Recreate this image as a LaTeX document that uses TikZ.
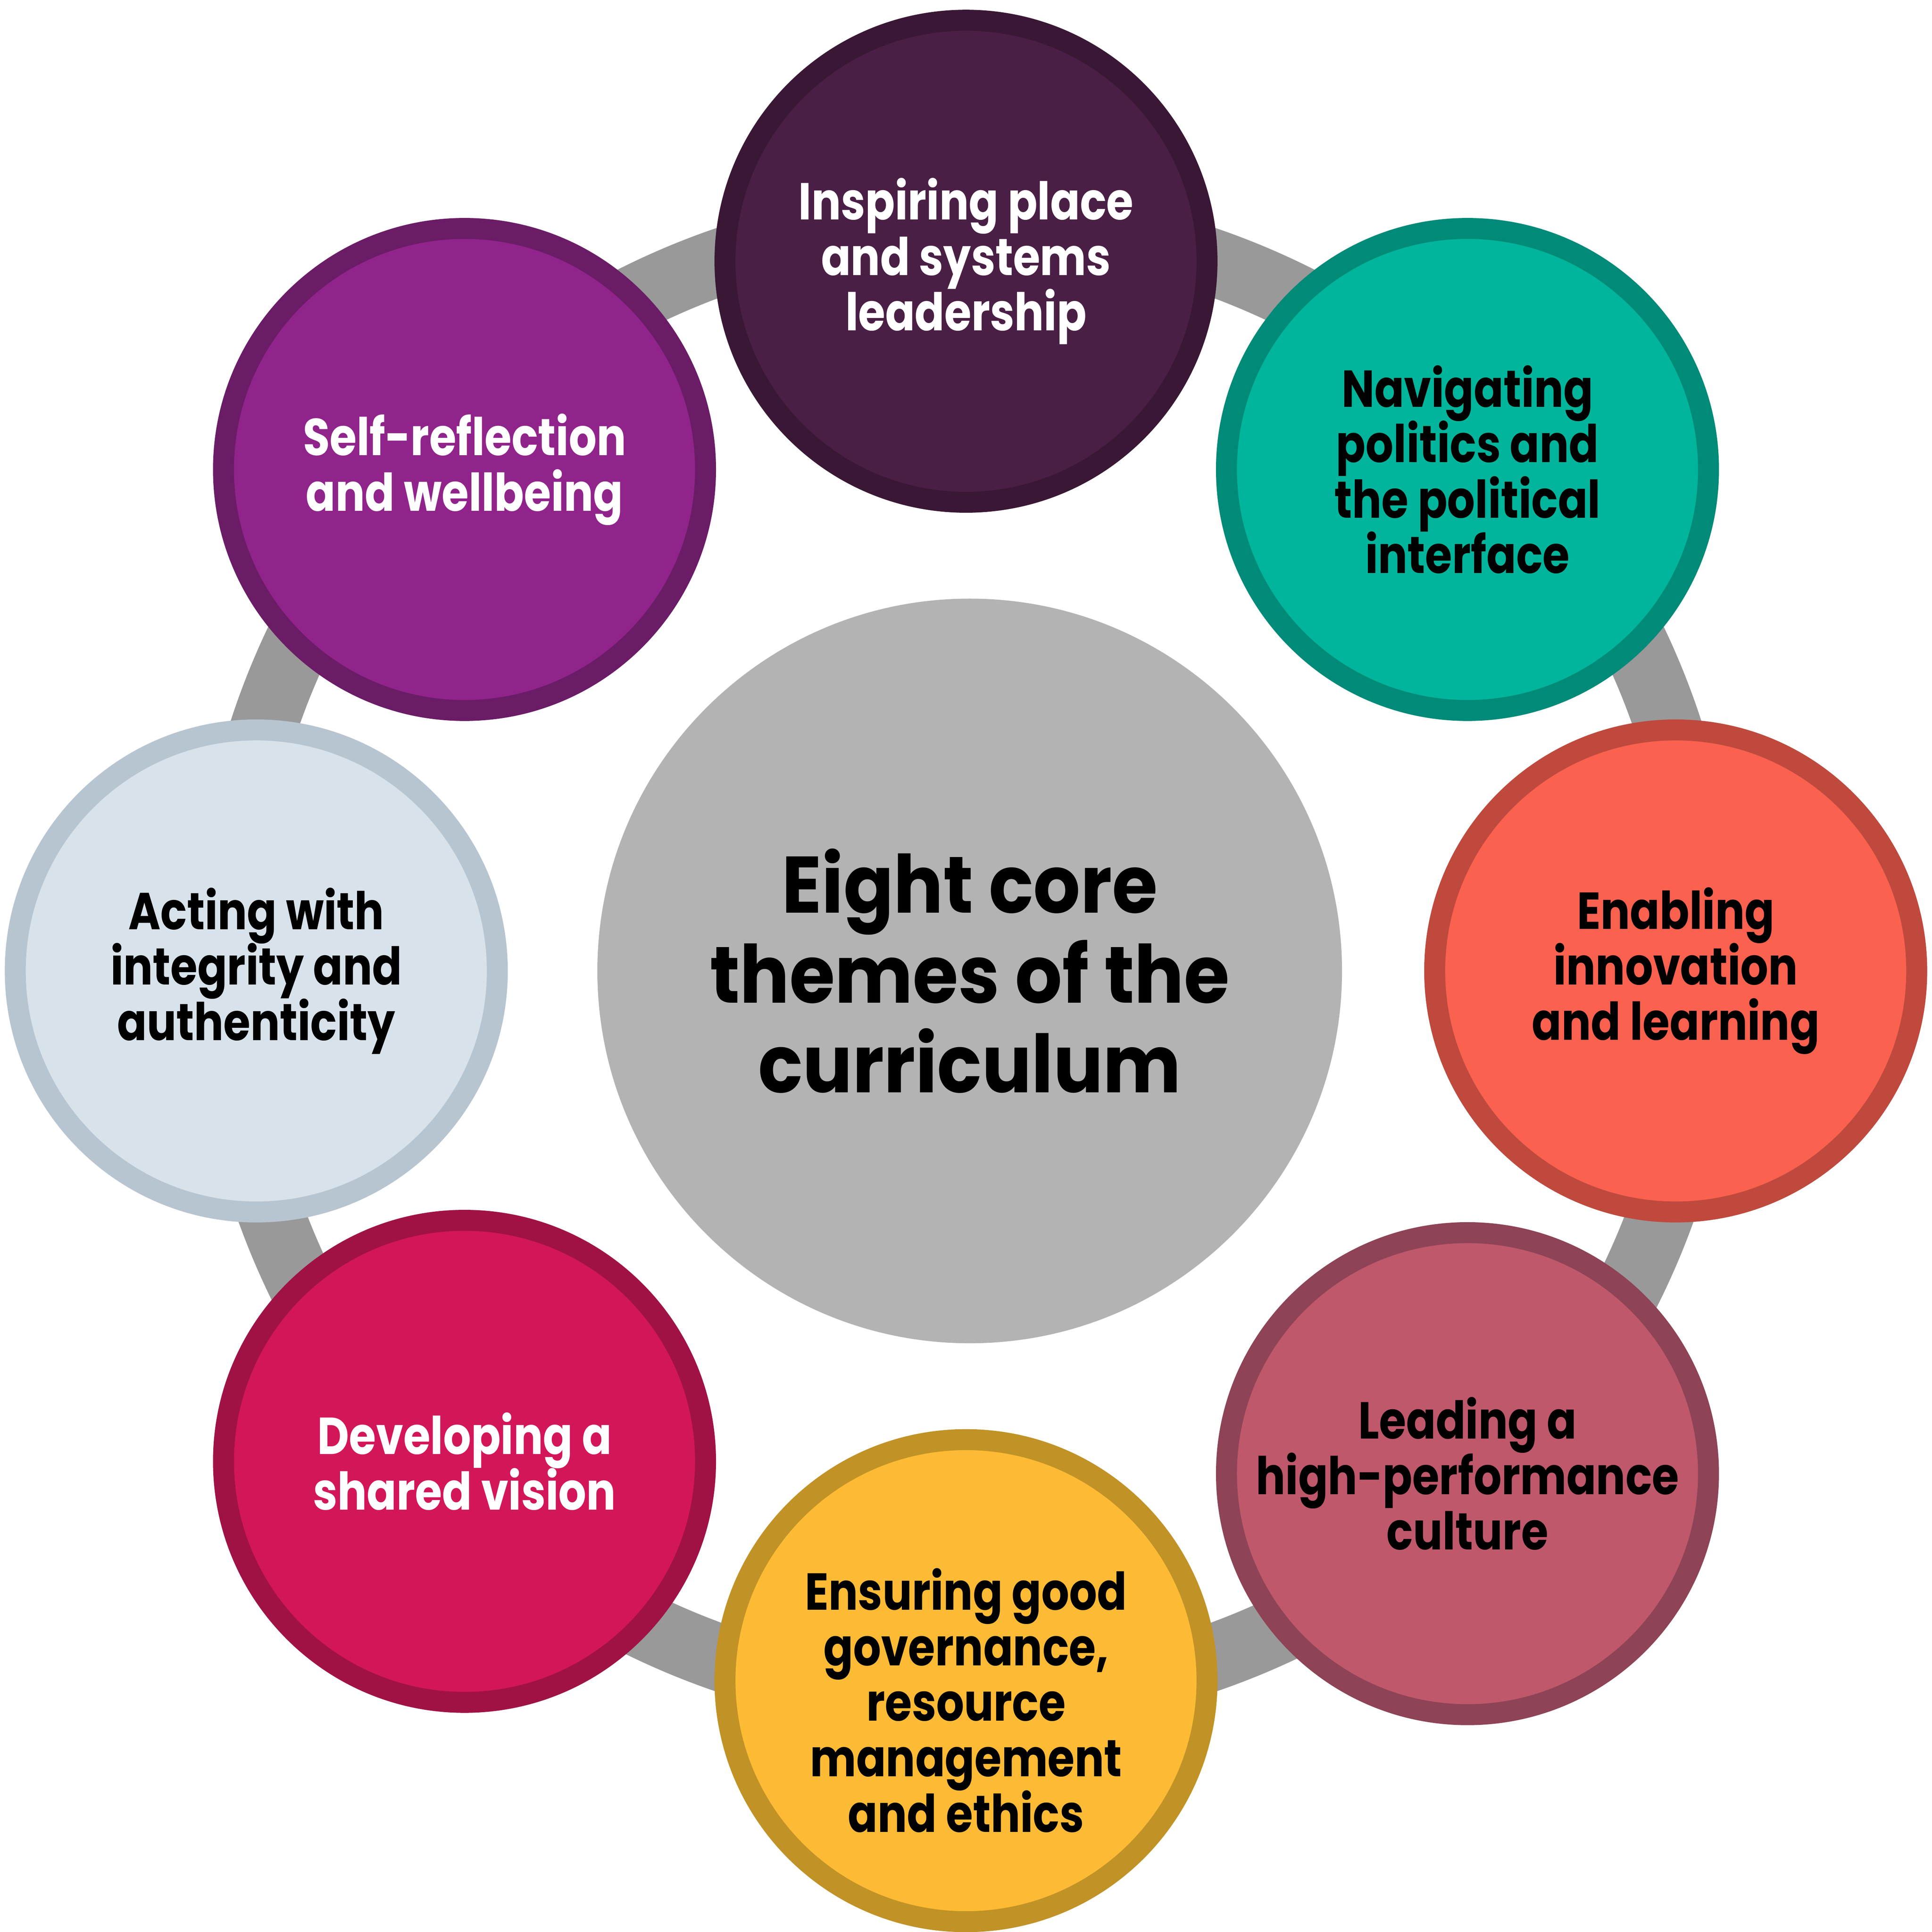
\documentclass[tikz,border=0pt]{standalone}
\usepackage{fontspec}
\setmainfont{Poppins}
\newfontfamily\themefamily[FakeStretch=0.84]{Poppins}
\newfontfamily\corefamily[FakeStretch=0.92]{Poppins}
\usetikzlibrary{positioning}
\newcommand{\tightlines}{\lineskiplimit=-100pt\relax}

\definecolor{ringgray}{HTML}{999999}
\definecolor{coregray}{HTML}{B3B3B3}
\definecolor{plumfill}{HTML}{4A1F45}\definecolor{plumline}{HTML}{3A1835}
\definecolor{tealfill}{HTML}{00B59B}\definecolor{tealline}{HTML}{008A78}
\definecolor{coralfill}{HTML}{FA614F}\definecolor{coralline}{HTML}{BF493D}
\definecolor{rosefill}{HTML}{BF586B}\definecolor{roseline}{HTML}{8E4356}
\definecolor{goldfill}{HTML}{FDBB35}\definecolor{goldline}{HTML}{C19226}
\definecolor{crimfill}{HTML}{D31659}\definecolor{crimline}{HTML}{A01245}
\definecolor{mistfill}{HTML}{D8E2EA}\definecolor{mistline}{HTML}{B7C5D1}
\definecolor{violfill}{HTML}{90248B}\definecolor{violline}{HTML}{6B1C66}

\tikzset{
  themetext/.style={align=center,
    font=\themefamily\bfseries\fontsize{12}{12.8}\selectfont\tightlines},
  theme/.style 2 args={circle, draw=#2, fill=#1, line width=0.17cm,
    minimum size=3.91cm, inner sep=0pt, themetext},
  core/.style={circle, fill=coregray, minimum size=6.04cm, inner sep=0pt,
    align=center, font=\corefamily\bfseries\fontsize{18.5}{20.7}\selectfont\tightlines}
}

\begin{document}
\begin{tikzpicture}[x=0.01cm, y=-0.01cm]
            \useasboundingbox (0,0) rectangle (1568,1568);
            \coordinate (hub) at (784,779);
            \draw[ringgray, line width=0.54cm] (hub) circle [radius=6.0cm];

            \node[core] (eight) at (787,788) {Eight core\\themes of the\\curriculum};

            \node[theme={plumfill}{plumline}, text=white] (place) at (784,212) {Inspiring place\\and systems\\leadership};
            \node[theme={tealfill}{tealline}] (politics) at (1191,381) {Navigating\\politics and\\the political\\interface};
            \node[theme={coralfill}{coralline}] (innovation) at (1360,788) {Enabling\\innovation\\and learning};
            \node[theme={rosefill}{roseline}] (culture) at (1191,1196) {Leading a\\high-performance\\culture};
            \node[theme={goldfill}{goldline},
              label={[themetext, yshift=-0.16cm]center:Ensuring good\\governance,\\resource\\management\\and ethics}] (governance) at (784,1364) {};
            \node[theme={crimfill}{crimline}, text=white] (vision) at (377,1186) {Developing a\\shared vision};
            \node[theme={mistfill}{mistline}] (integrity) at (208,788) {Acting with\\integrity and\\authenticity};
            \node[theme={violfill}{violline}, text=white] (wellbeing) at (377,381) {Self-reflection\\and wellbeing};
          \end{tikzpicture}
\end{document}
